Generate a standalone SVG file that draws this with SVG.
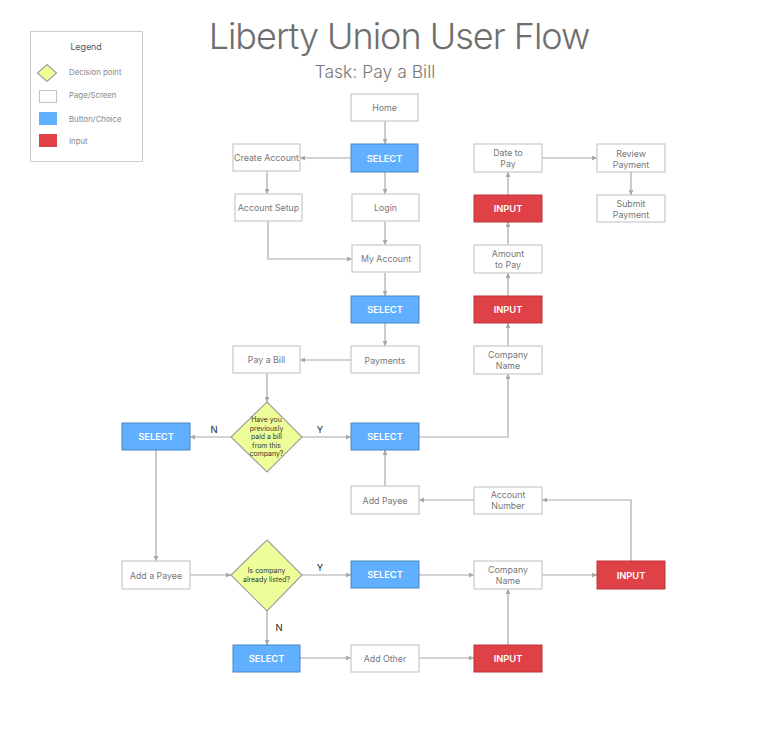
<svg xmlns="http://www.w3.org/2000/svg" width="772" height="733" viewBox="0 0 772 733">
<defs>
<marker id="arr" viewBox="0 0 10 10" refX="10" refY="5" markerWidth="5" markerHeight="5" orient="auto" markerUnits="userSpaceOnUse">
<path d="M0,0 L10,5 L0,10 z" fill="#a8a8a8"/>
</marker>
<style>
text{font-family:Inter,"Open Sans",sans-serif;}
.page{fill:#fff;stroke:#c8c8c8;stroke-width:1.2;}
.btn{fill:#60b0ff;stroke:#4a86c0;stroke-width:1;}
.inp{fill:#e04147;stroke:#b8363b;stroke-width:1;}
.dec{fill:#eeff99;stroke:#a0a0a0;stroke-width:1.2;}
.pt{font-size:8.8px;fill:#777;text-anchor:middle;}
.bt{font-size:9.3px;fill:#fff;font-weight:600;text-anchor:middle;}
.dt{font-size:6.9px;fill:#333;text-anchor:middle;}
.yn{font-size:9.5px;fill:#222;text-anchor:middle;}
.lg{font-size:7.8px;fill:#888;}
.c{fill:none;stroke:#a8a8a8;stroke-width:1.2;marker-end:url(#arr);}
</style>
</defs>
<rect width="772" height="733" fill="#fff"/>

<g id="title">
<text x="399" y="49" style="font-size:36px;fill:#6e6e6e;text-anchor:middle;font-weight:300;letter-spacing:-1px;">Liberty Union User Flow</text>
<text x="375" y="78" style="font-size:17.5px;fill:#777;text-anchor:middle;font-weight:300;">Task: Pay a Bill</text>
</g>

<g id="legend">
<rect x="30.5" y="31.5" width="112" height="130" fill="#fff" stroke="#ccc" stroke-width="1"/>
<text x="86" y="50" style="font-size:8.8px;fill:#555;text-anchor:middle;">Legend</text>
<polygon points="47,64.5 56.5,73 47,81.5 37.5,73" class="dec"/>
<rect x="39.5" y="90.5" width="17" height="12" class="page"/>
<rect x="39.5" y="112.5" width="17" height="12" fill="#60b0ff" stroke="#60b0ff"/>
<rect x="39.5" y="134.5" width="17" height="12" fill="#e04147" stroke="#e04147"/>
<text x="69" y="75" class="lg">Decision point</text>
<text x="69" y="98" class="lg">Page/Screen</text>
<text x="69" y="122" class="lg">Button/Choice</text>
<text x="69" y="144" class="lg">Input</text>
</g>

<g id="connectors">
<path class="c" d="M385,121 V144"/>
<path class="c" d="M351,158 H300"/>
<path class="c" d="M385,172 V194"/>
<path class="c" d="M267,171 V194"/>
<path class="c" d="M268,221 V259 H352"/>
<path class="c" d="M385,222 V245"/>
<path class="c" d="M385,273 V296"/>
<path class="c" d="M385,323 V346"/>
<path class="c" d="M351,360 H300"/>
<path class="c" d="M267,373 V402"/>
<path class="c" d="M231,437 H190"/>
<path class="c" d="M302,437 H351"/>
<path class="c" d="M419,437 H508 V374"/>
<path class="c" d="M508,346 V323"/>
<path class="c" d="M508,296 V273"/>
<path class="c" d="M508,245 V222"/>
<path class="c" d="M508,195 V172"/>
<path class="c" d="M542,158 H597"/>
<path class="c" d="M631,172 V195"/>
<path class="c" d="M385,486 V450"/>
<path class="c" d="M474,500 H419"/>
<path class="c" d="M631,561 V500 H542"/>
<path class="c" d="M156,450 V561"/>
<path class="c" d="M190,575 H231"/>
<path class="c" d="M302,575 H351"/>
<path class="c" d="M419,575 H474"/>
<path class="c" d="M542,575 H597"/>
<path class="c" d="M267,611 V645"/>
<path class="c" d="M300,658 H351"/>
<path class="c" d="M419,658 H474"/>
<path class="c" d="M508,645 V589"/>
<text x="214" y="433" class="yn">N</text>
<text x="320" y="433" class="yn">Y</text>
<text x="320" y="571" class="yn">Y</text>
<text x="279" y="631" class="yn">N</text>
</g>

<g id="home"><rect x="351" y="94" width="67" height="27" class="page"/><text x="384.5" y="111" class="pt">Home</text></g>
<g id="select1"><rect x="351" y="144" width="67" height="28" class="btn"/><text x="384.5" y="161.5" class="bt">SELECT</text></g>
<g id="create-account"><rect x="233" y="144" width="67" height="27" class="page"/><text x="266.5" y="161" class="pt">Create Account</text></g>
<g id="account-setup"><rect x="235" y="194" width="67" height="27" class="page"/><text x="268.5" y="211" class="pt">Account Setup</text></g>
<g id="login"><rect x="352" y="194" width="67" height="27" class="page"/><text x="385.5" y="211" class="pt">Login</text></g>
<g id="my-account"><rect x="352" y="245" width="68" height="27" class="page"/><text x="386" y="262" class="pt">My Account</text></g>
<g id="select2"><rect x="351" y="296" width="68" height="27" class="btn"/><text x="385" y="313" class="bt">SELECT</text></g>
<g id="payments"><rect x="351" y="346" width="68" height="27" class="page"/><text x="385" y="363.5" class="pt">Payments</text></g>
<g id="pay-a-bill"><rect x="233" y="346" width="67" height="27" class="page"/><text x="266.5" y="363" class="pt">Pay a Bill</text></g>

<g id="date-to-pay"><rect x="474" y="144" width="68" height="28" class="page"/><text class="pt"><tspan x="508" y="156">Date to</tspan><tspan x="508" y="167">Pay</tspan></text></g>
<g id="input1"><rect x="474" y="195" width="68" height="27" class="inp"/><text x="508" y="212" class="bt">INPUT</text></g>
<g id="amount-to-pay"><rect x="474" y="245" width="68" height="28" class="page"/><text class="pt"><tspan x="508" y="257">Amount</tspan><tspan x="508" y="268">to Pay</tspan></text></g>
<g id="input2"><rect x="474" y="296" width="68" height="27" class="inp"/><text x="508" y="313" class="bt">INPUT</text></g>
<g id="company-name1"><rect x="474" y="346" width="68" height="28" class="page"/><text class="pt"><tspan x="508" y="358">Company</tspan><tspan x="508" y="369">Name</tspan></text></g>
<g id="review-payment"><rect x="597" y="144" width="68" height="28" class="page"/><text class="pt"><tspan x="631" y="157">Review</tspan><tspan x="631" y="168">Payment</tspan></text></g>
<g id="submit-payment"><rect x="597" y="195" width="68" height="27" class="page"/><text class="pt"><tspan x="631" y="207">Submit</tspan><tspan x="631" y="218">Payment</tspan></text></g>

<g id="decision1"><polygon points="267,402 302,437 267,472 231,437" class="dec"/>
<text class="dt"><tspan x="266.5" y="422">Have you</tspan><tspan x="266.5" y="430.5">previously</tspan><tspan x="266.5" y="439">paid a bill</tspan><tspan x="266.5" y="447.5">from this</tspan><tspan x="266.5" y="456">company?</tspan></text></g>
<g id="select-n1"><rect x="122" y="423" width="68" height="27" class="btn"/><text x="156" y="440" class="bt">SELECT</text></g>
<g id="select-y1"><rect x="351" y="423" width="68" height="27" class="btn"/><text x="385" y="440" class="bt">SELECT</text></g>
<g id="add-payee"><rect x="351" y="486" width="68" height="28" class="page"/><text x="385" y="503.5" class="pt">Add Payee</text></g>
<g id="account-number"><rect x="474" y="487" width="68" height="27" class="page"/><text class="pt"><tspan x="508" y="498">Account</tspan><tspan x="508" y="509">Number</tspan></text></g>

<g id="add-a-payee"><rect x="122" y="561" width="68" height="28" class="page"/><text x="156" y="578.5" class="pt">Add a Payee</text></g>
<g id="decision2"><polygon points="267,540 302,575 267,611 231,575" class="dec"/>
<text class="dt"><tspan x="266.5" y="573">Is company</tspan><tspan x="266.5" y="581.5">already listed?</tspan></text></g>
<g id="select-y2"><rect x="351" y="561" width="68" height="27" class="btn"/><text x="385" y="578" class="bt">SELECT</text></g>
<g id="company-name2"><rect x="474" y="561" width="68" height="28" class="page"/><text class="pt"><tspan x="508" y="573">Company</tspan><tspan x="508" y="584">Name</tspan></text></g>
<g id="input3"><rect x="597" y="561" width="68" height="28" class="inp"/><text x="631" y="578.5" class="bt">INPUT</text></g>
<g id="select-n2"><rect x="233" y="645" width="67" height="27" class="btn"/><text x="266.5" y="662" class="bt">SELECT</text></g>
<g id="add-other"><rect x="351" y="645" width="68" height="27" class="page"/><text x="385" y="661.5" class="pt">Add Other</text></g>
<g id="input4"><rect x="474" y="645" width="68" height="27" class="inp"/><text x="508" y="662" class="bt">INPUT</text></g>
</svg>
